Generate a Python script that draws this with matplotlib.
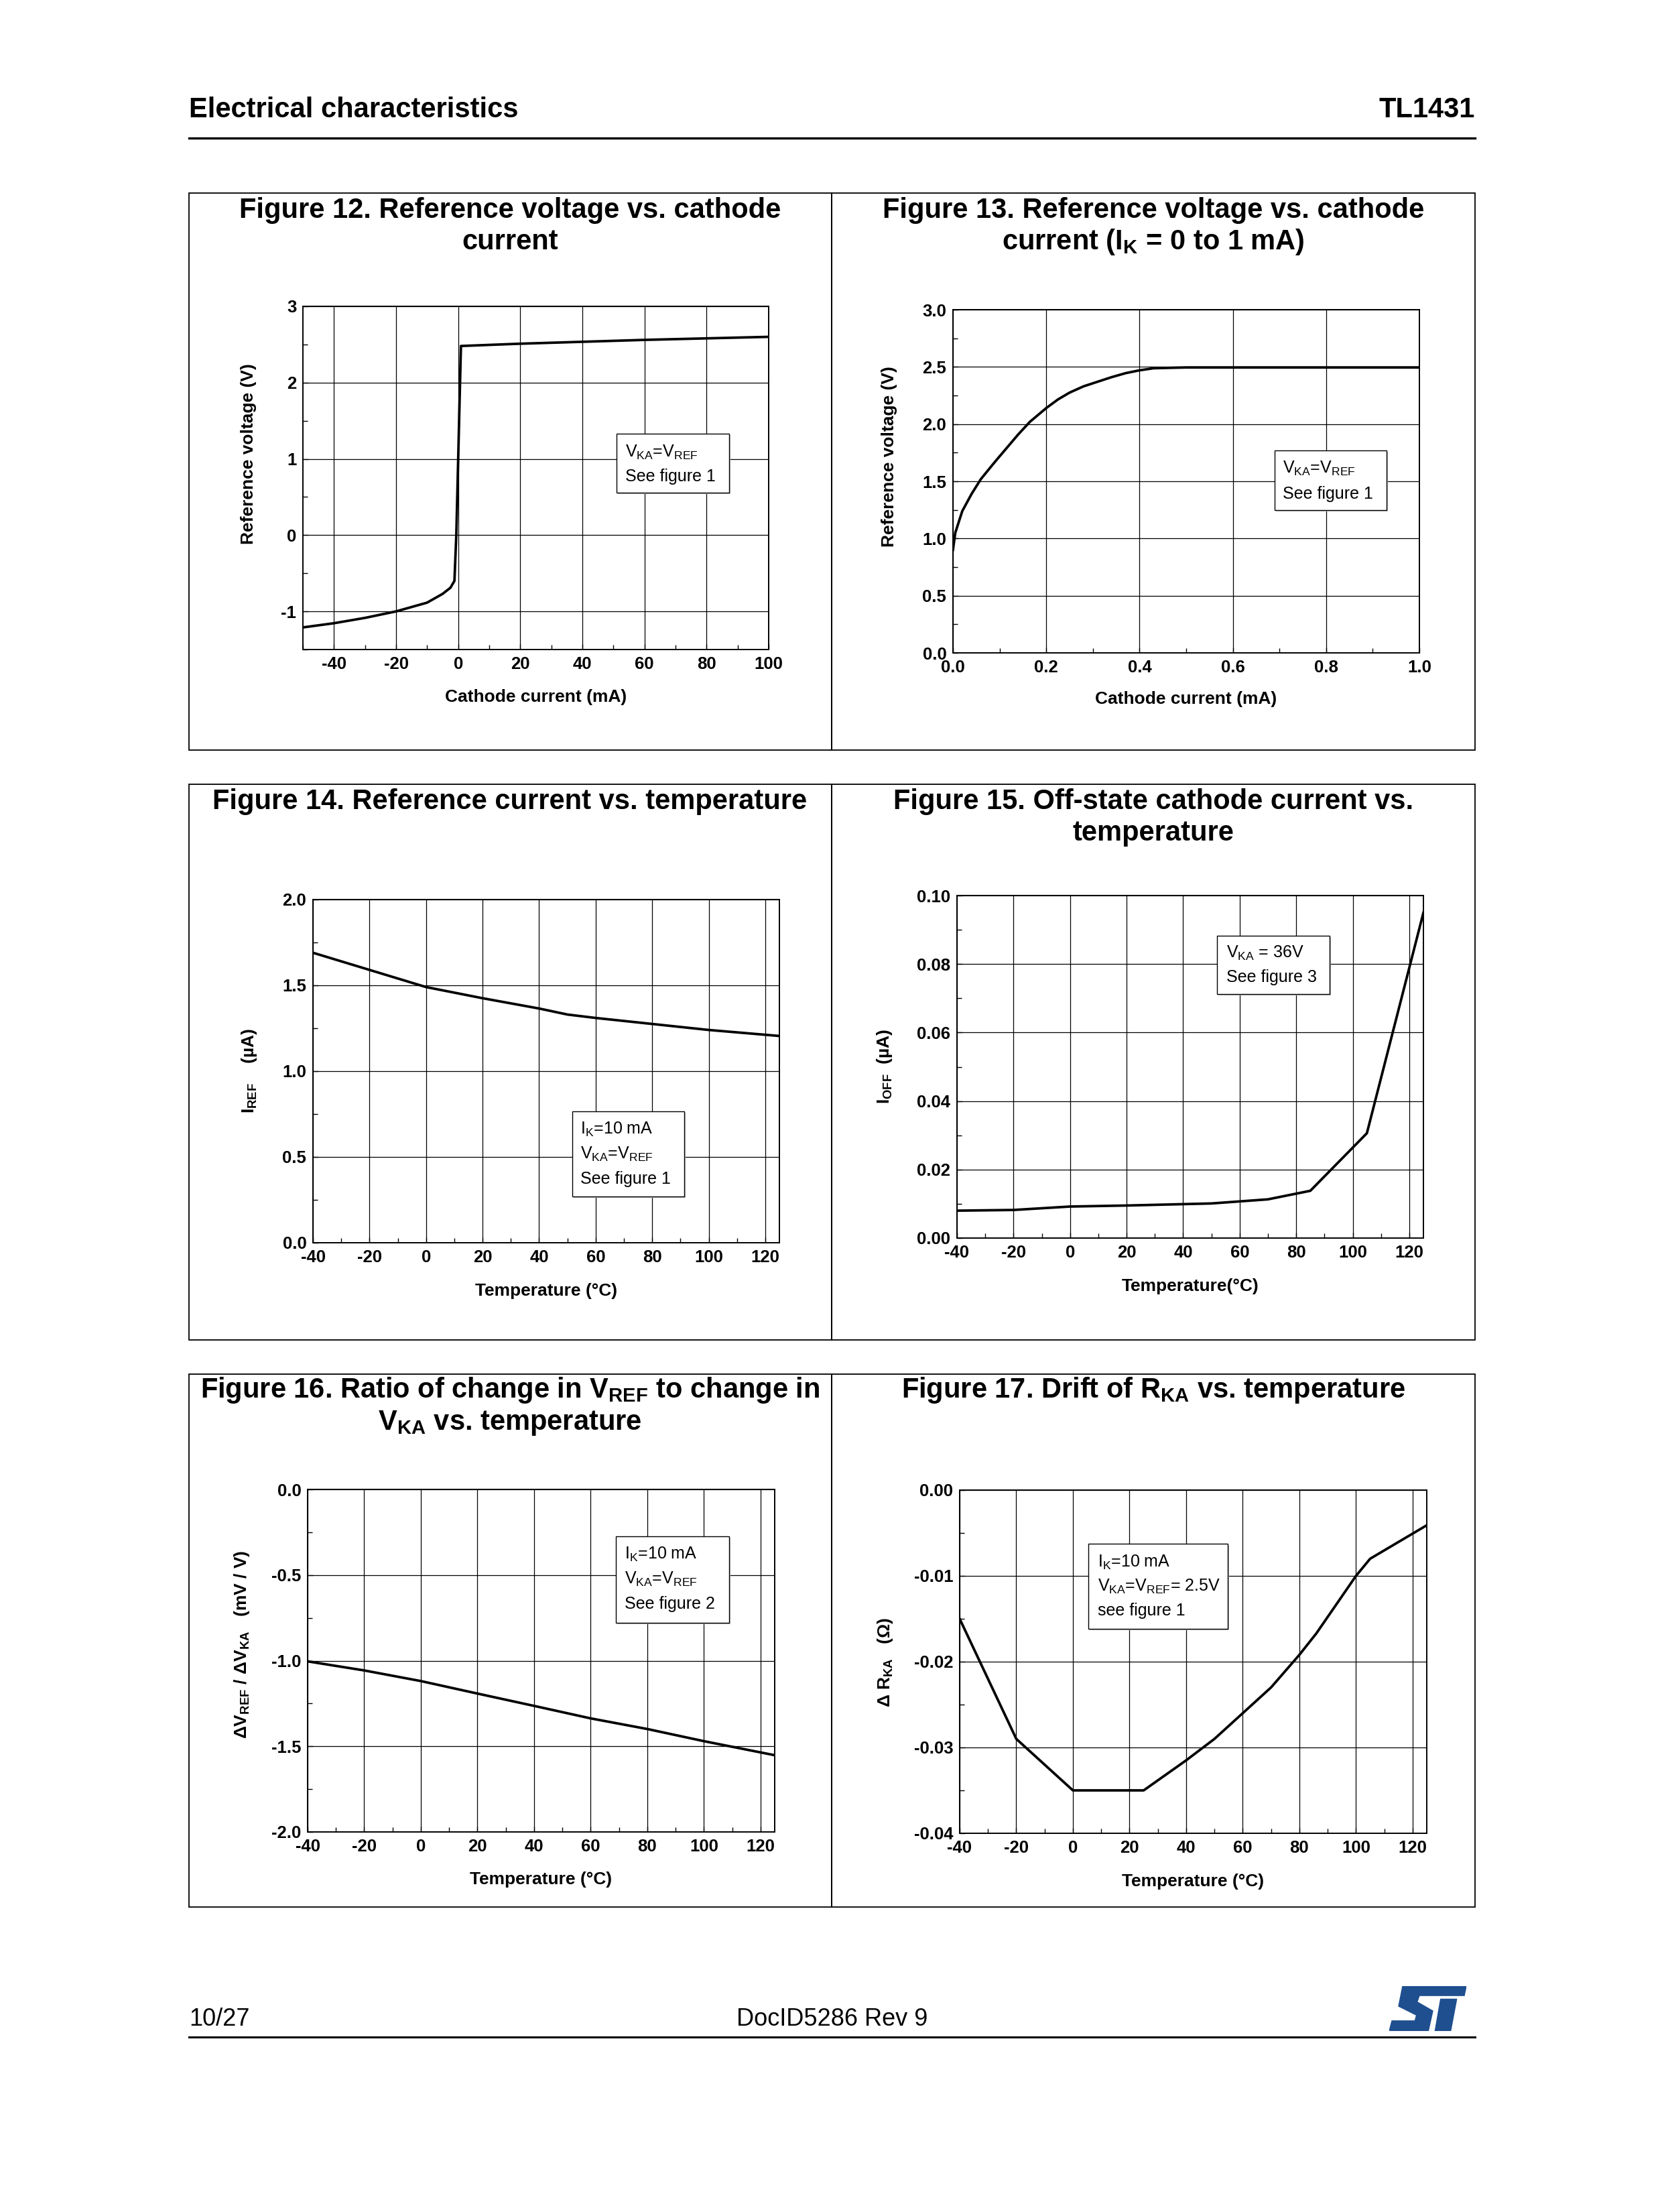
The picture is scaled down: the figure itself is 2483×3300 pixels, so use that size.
import matplotlib
matplotlib.use("Agg")
import matplotlib.pyplot as plt
from matplotlib.lines import Line2D
from matplotlib.patches import Rectangle, Polygon
from matplotlib.ticker import MultipleLocator, FormatStrFormatter

W, H = 2483, 3300

plt.rcParams["font.family"] = ["Liberation Sans", "DejaVu Sans"]
plt.rcParams["mathtext.fontset"] = "custom"
plt.rcParams["mathtext.default"] = "regular"
plt.rcParams["axes.unicode_minus"] = False

# ---- data ----
fig12_current = [-50, -40, -30, -20, -10, -5, -2.5, -1.2, -0.6, 0.9, 20, 40, 60, 80, 100]
fig12_vref = [-1.21, -1.155, -1.085, -1.0, -0.885, -0.77, -0.69, -0.6, 0.0, 2.48,
              2.51, 2.535, 2.56, 2.58, 2.60]

fig13_current = [0.0, 0.005, 0.02, 0.04, 0.06, 0.09, 0.115, 0.14, 0.165, 0.2, 0.225, 0.25,
                 0.28, 0.31, 0.34, 0.37, 0.4, 0.43, 0.5, 1.0]
fig13_vref = [0.9, 1.05, 1.24, 1.39, 1.52, 1.67, 1.79, 1.91, 2.02, 2.14, 2.215, 2.275,
              2.33, 2.37, 2.41, 2.445, 2.47, 2.488, 2.495, 2.495]

fig14_temp = [-40, -20, 0, 20, 40, 50, 60, 80, 100, 125]
fig14_iref = [1.69, 1.59, 1.49, 1.425, 1.365, 1.33, 1.31, 1.275, 1.24, 1.205]

fig15_temp = [-40, -20, 0, 20, 40, 50, 60, 70, 85, 105, 125]
fig15_ioff = [0.0080, 0.0082, 0.0092, 0.0095, 0.0099, 0.0101, 0.0107, 0.0113, 0.0138, 0.0306, 0.095]

fig16_temp = [-40, -20, 0, 20, 40, 60, 80, 100, 125]
fig16_ratio = [-1.004, -1.057, -1.119, -1.192, -1.264, -1.337, -1.399, -1.47, -1.552]

fig17_temp = [-40, -20, 0, 25, 40, 50, 60, 70, 80, 86, 100, 105, 125]
fig17_drift = [-0.0150, -0.0290, -0.0350, -0.0350, -0.0315, -0.0290, -0.0260, -0.0230,
               -0.0192, -0.0167, -0.0100, -0.0080, -0.0041]

fig = plt.figure(figsize=(W / 100, H / 100), dpi=100)
fig.patch.set_facecolor("white")


def fx(x):
    return x / W


def fy(y):
    return 1 - y / H


def page_text(x, y, s, **kw):
    fig.text(fx(x), fy(y), s, **kw)


def page_line(x0, y0, x1, y1, lw):
    fig.add_artist(Line2D([fx(x0), fx(x1)], [fy(y0), fy(y1)],
                          transform=fig.transFigure, color="black", lw=lw))


def page_box(x0, y0, x1, y1, lw=1.3, zorder=1):
    fig.add_artist(Rectangle((fx(x0), fy(y1)), (x1 - x0) / W, (y1 - y0) / H,
                             transform=fig.transFigure, facecolor="none",
                             edgecolor="black", lw=lw, zorder=zorder))


def note_box(x0, y0, x1, y1, text_x, baselines, lines):
    fig.add_artist(Rectangle((fx(x0 + 2), fy(y1 + 2)), (x1 - x0) / W, (y1 - y0) / H,
                             transform=fig.transFigure, facecolor="#bbbbbb",
                             edgecolor="none", zorder=4))
    fig.add_artist(Rectangle((fx(x0), fy(y1)), (x1 - x0) / W, (y1 - y0) / H,
                             transform=fig.transFigure, facecolor="white",
                             edgecolor="black", lw=1.0, zorder=5))
    for yb, s in zip(baselines, lines):
        page_text(text_x, yb, s, fontsize=18, va="baseline", ha="left", zorder=6)


def chart(bounds, x, y, xlim, ylim, xstep, ystep, xfmt, yfmt):
    left, top, right, bottom = bounds
    ax = fig.add_axes([fx(left), fy(bottom), (right - left) / W, (bottom - top) / H])
    ax.plot(x, y, color="black", lw=2.7, solid_joinstyle="round", zorder=3)
    ax.set_xlim(*xlim)
    ax.set_ylim(*ylim)
    ax.xaxis.set_major_locator(MultipleLocator(xstep))
    ax.xaxis.set_minor_locator(MultipleLocator(xstep / 2))
    ax.yaxis.set_major_locator(MultipleLocator(ystep))
    ax.yaxis.set_minor_locator(MultipleLocator(ystep / 2))
    ax.xaxis.set_major_formatter(FormatStrFormatter(xfmt))
    ax.yaxis.set_major_formatter(FormatStrFormatter(yfmt))
    ax.grid(True, which="major", color="black", lw=0.9)
    ax.tick_params(which="both", direction="in", top=False, right=False,
                   labelsize=18.5, pad=7, width=1.0)
    ax.tick_params(which="major", length=6)
    ax.tick_params(which="minor", length=5)
    for lab in ax.get_xticklabels() + ax.get_yticklabels():
        lab.set_fontweight("bold")
    for sp in ax.spines.values():
        sp.set_linewidth(1.4)
    return ax


# ---- page header and footer ----
page_text(282, 164, "Electrical characteristics", fontsize=30, fontweight="bold",
          ha="left", va="center")
page_text(2201, 164, "TL1431", fontsize=30, fontweight="bold", ha="right", va="center")
page_line(282, 206, 2201, 206, 2.4)

page_text(282, 3013, "10/27", fontsize=26, ha="left", va="center")
page_text(1242, 3013, "DocID5286 Rev 9", fontsize=26, ha="center", va="center")
page_line(282, 3039, 2201, 3039, 2.2)

# ST logo, drawn as two blue shapes
logo = fig.add_axes([fx(2073), fy(3030), 115 / W, 67 / H])
logo.set_xlim(70, 415)
logo.set_ylim(235, 45)
logo.axis("off")
logo.add_patch(Polygon([(130, 45), (415, 45), (406, 85), (205, 85), (195, 112), (265, 150),
                        (245, 235), (70, 235), (82, 192), (185, 192), (192, 168),
                        (112, 130)], closed=True, color="#1f4f8f"))
logo.add_patch(Polygon([(300, 100), (372, 100), (345, 235), (275, 235)], closed=True,
                       color="#1f4f8f"))

# ---- frames around the six figures ----
for top, bottom in [(288, 1119), (1170, 1999), (2050, 2845)]:
    page_box(282, top, 1241, bottom)
    page_box(1241, top, 2201, bottom)

# ---- titles ----
bold_title = dict(fontsize=30, fontweight="bold", ha="center", va="baseline")
page_text(761, 325, "Figure 12. Reference voltage vs. cathode", **bold_title)
page_text(761, 372, "current", **bold_title)
page_text(1721, 325, "Figure 13. Reference voltage vs. cathode", **bold_title)
page_text(1721, 372, "current (I$_{K}$ = 0 to 1 mA)", **bold_title)
page_text(761, 1207, "Figure 14. Reference current vs. temperature", **bold_title)
page_text(1721, 1207, "Figure 15. Off-state cathode current vs.", **bold_title)
page_text(1721, 1254, "temperature", **bold_title)
page_text(761, 2085, "Figure 16. Ratio of change in V$_{REF}$ to change in", **bold_title)
page_text(761, 2133, "V$_{KA}$ vs. temperature", **bold_title)
page_text(1721, 2085, "Figure 17. Drift of R$_{KA}$ vs. temperature", **bold_title)

# ---- charts ----
axis_lab = dict(fontsize=19, fontweight="bold", ha="center", va="center")

chart((452, 457, 1147, 969), fig12_current, fig12_vref, (-50, 100), (-1.5, 3),
      20, 1, "%d", "%d")
page_text(800, 1040, "Cathode current (mA)", **axis_lab)
page_text(371, 677, "Reference voltage (V)", rotation=90, **axis_lab)
note_box(920, 647, 1088, 735, 933, [682, 718], ["V$_{KA}$=V$_{REF}$", "See figure 1"])

chart((1422, 462, 2118, 974), fig13_current, fig13_vref, (0, 1), (0, 3),
      0.2, 0.5, "%.1f", "%.1f")
page_text(1770, 1043, "Cathode current (mA)", **axis_lab)
page_text(1327, 681, "Reference voltage (V)", rotation=90, **axis_lab)
note_box(1902, 672, 2069, 761, 1914, [706, 744], ["V$_{KA}$=V$_{REF}$", "See figure 1"])

chart((467, 1342, 1163, 1854), fig14_temp, fig14_iref, (-40, 125), (0, 2),
      20, 0.5, "%d", "%.1f")
page_text(815, 1926, "Temperature (°C)", **axis_lab)
page_text(372, 1597, "I$_{REF}$    (µA)", rotation=90, **axis_lab)
note_box(854, 1658, 1021, 1785, 866, [1692, 1729, 1766],
         ["I$_{K}$=10 mA", "V$_{KA}$=V$_{REF}$", "See figure 1"])

chart((1428, 1336, 2124, 1847), fig15_temp, fig15_ioff, (-40, 125), (0, 0.10),
      20, 0.02, "%d", "%.2f")
page_text(1776, 1919, "Temperature(°C)", **axis_lab)
page_text(1320, 1591, "I$_{OFF}$  (µA)", rotation=90, **axis_lab)
note_box(1816, 1396, 1984, 1483, 1830, [1429, 1465], ["V$_{KA}$ = 36V", "See figure 3"])

chart((459, 2222, 1156, 2733), fig16_temp, fig16_ratio, (-40, 125), (-2, 0),
      20, 0.5, "%d", "%.1f")
page_text(807, 2804, "Temperature (°C)", **axis_lab)
page_text(361, 2453, "ΔV$_{REF}$ / ΔV$_{KA}$   (mV / V)", rotation=90, **axis_lab)
note_box(919, 2292, 1088, 2421, 932, [2326, 2363, 2400],
         ["I$_{K}$=10 mA", "V$_{KA}$=V$_{REF}$", "See figure 2"])

chart((1432, 2223, 2129, 2735), fig17_temp, fig17_drift, (-40, 125), (-0.04, 0),
      20, 0.01, "%d", "%.2f")
page_text(1780, 2807, "Temperature (°C)", **axis_lab)
page_text(1321, 2480, "Δ R$_{KA}$   (Ω)", rotation=90, **axis_lab)
note_box(1624, 2303, 1832, 2430, 1638, [2338, 2374, 2410],
         ["I$_{K}$=10 mA", "V$_{KA}$=V$_{REF}$= 2.5V", "see figure 1"])

fig.savefig("out.png", dpi=100, facecolor="white")
